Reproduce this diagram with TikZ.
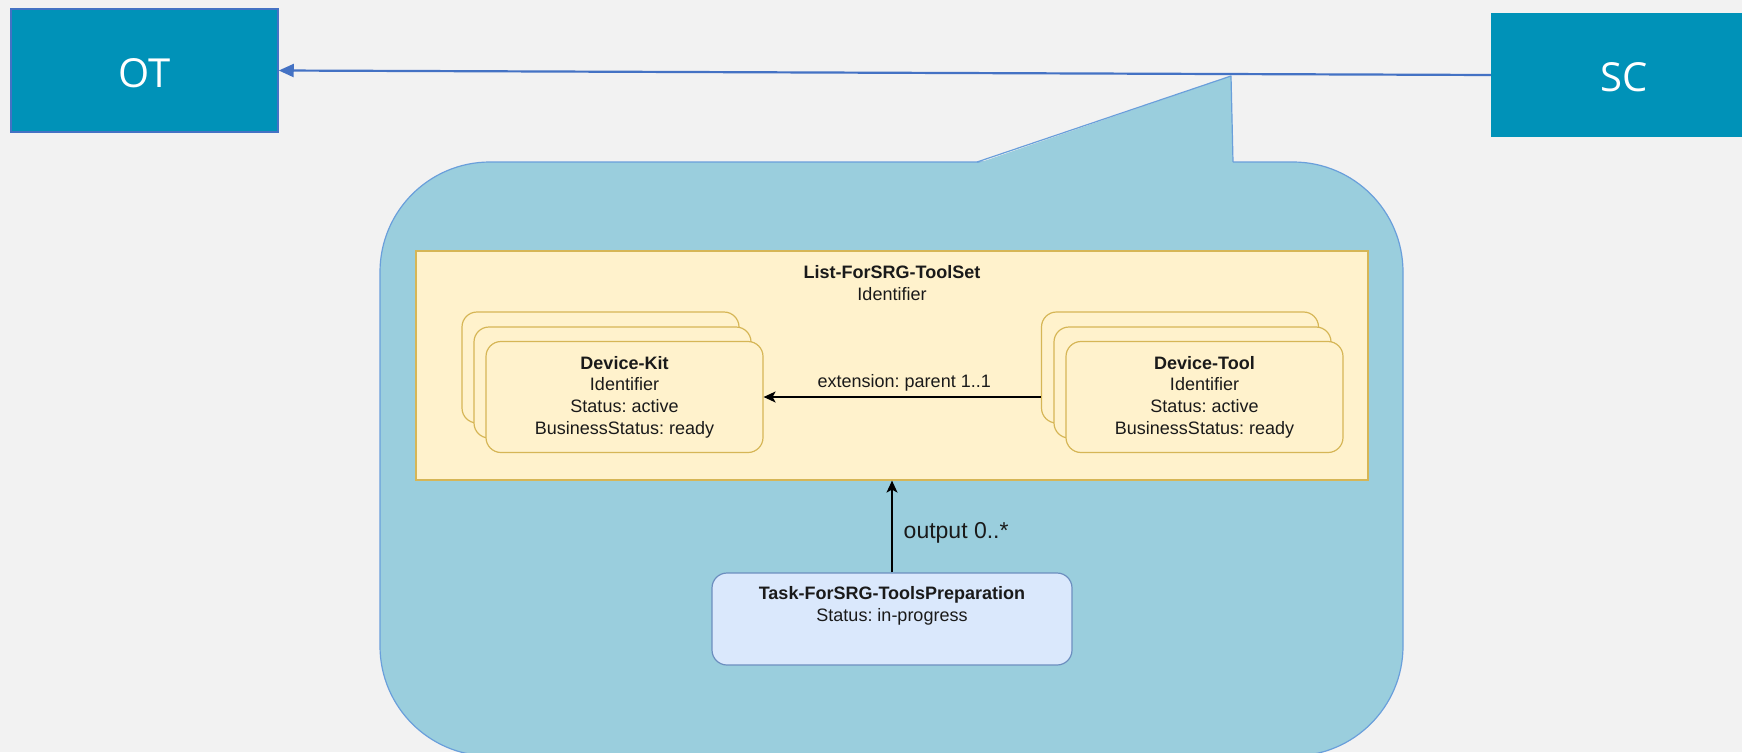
\documentclass[tikz,border=0pt]{standalone}
\usepackage{fontspec}
\setmainfont{Liberation Sans}
\newfontfamily\segoefont{Open Sans}
\usetikzlibrary{arrows.meta}
\frenchspacing
\definecolor{bgcol}{HTML}{F2F2F2}
\definecolor{sysfill}{HTML}{0092B8}
\definecolor{sysline}{HTML}{4472C4}
\definecolor{callfill}{HTML}{9ACEDD}
\definecolor{callline}{HTML}{6A9FDB}
\definecolor{yelfill}{HTML}{FFF2CC}
\definecolor{yelline}{HTML}{D6B656}
\definecolor{taskfill}{HTML}{DAE8FC}
\definecolor{taskline}{HTML}{6C8EBF}
\definecolor{txt}{HTML}{1A1A1A}
\tikzset{
  sysbox/.style={fill=sysfill, minimum width=267pt, minimum height=123pt, inner sep=0pt,
    text height=33pt, text depth=0pt,
    text=white, font=\segoefont\fontsize{40}{48}\selectfont},
  listbox/.style={draw=yelline, fill=yelfill, line width=1.2pt, minimum width=952pt, minimum height=229pt, inner sep=0pt},
  card/.style={draw=yelline, fill=yelfill, line width=1.2pt, rounded corners=15pt,
    minimum width=277pt, minimum height=111pt, inner sep=0pt, align=center, text=txt,
    font=\fontsize{18}{21.7}\selectfont},
  taskbox/.style={draw=taskline, fill=taskfill, line width=1.2pt, rounded corners=15pt,
    minimum width=360pt, minimum height=92pt, inner sep=0pt},
  lbl/.style={inner sep=0pt, align=center, text=txt, font=\fontsize{18}{21.7}\selectfont},
  blk/.style={draw=black, line width=1.4pt, -{Stealth[length=12pt,width=11pt,inset=3pt]}},
}
\begin{document}
\begin{tikzpicture}[x=1pt,y=-1pt]
\fill[bgcol] (0,0) rectangle (1742,752);
\useasboundingbox (0,0) rectangle (1742,752);
\clip (0,0) rectangle (1742,752);

% system boxes
\node[sysbox, draw=sysline, line width=1.5pt] (OT) at (144.5,70.5) {OT};
\node[sysbox, minimum height=124pt] (SC) at (1624.5,75) {SC};

% callout
\draw[callline, fill=callfill, line width=1.2pt, rounded corners=110pt]
  (380,162) rectangle (1403,756);
\fill[callfill] (977,163.5) -- (1231,76) -- (1233,163.5) -- cycle;
\draw[callline, line width=1.2pt, line join=round] (977,162) -- (1231,76) -- (1233,162);

% connector OT <- SC
\draw[sysline, line width=2.2pt, -{Triangle[length=15pt,width=13pt]}] (SC.west) -- (OT.east);

% list box
\node[listbox] (list) at (892,365.5) {};
\node[lbl] (listlbl) at (892,283) {\textbf{List-ForSRG-ToolSet}\\Identifier};

% Device-Kit stack
\node[card] (dkb) at (600.5,367.5) {};
\node[card] (dkm) at (612.5,382.5) {};
\node[card] (dk) at (624.5,397) {\textbf{Device-Kit}\\Identifier\\Status: active\\BusinessStatus: ready};

% Device-Tool stack
\node[card] (dtb) at (1180,367.5) {};
\node[card] (dtm) at (1192.5,382.5) {};
\node[card] (dt) at (1204.5,397) {\textbf{Device-Tool}\\Identifier\\Status: active\\BusinessStatus: ready};

% extension arrow
\draw[blk] (dk.east -| dtb.west) -- node[lbl, above=5pt, xshift=2pt] (extlbl) {extension: parent 1..1} (dk.east);

% task
\node[taskbox] (task) at (892,619) {};
\node[lbl] (tasklbl) at (892,606) {\textbf{Task-ForSRG-ToolsPreparation}\\Status: in-progress};

% output arrow
\draw[blk] (task.north) -- node[lbl, right=11pt, yshift=-6pt, font=\fontsize{23}{27}\selectfont] (outlbl) {output 0..*} (list.south);
\end{tikzpicture}
\end{document}
